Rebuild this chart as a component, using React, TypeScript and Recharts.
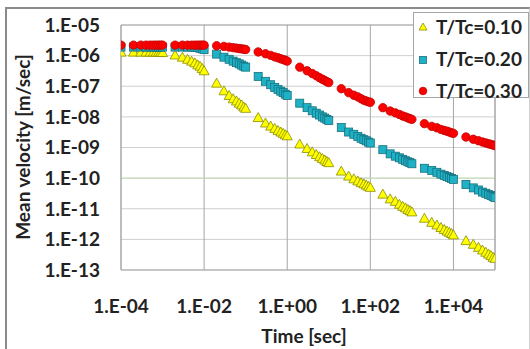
import React from "react";
import {
  ScatterChart,
  Scatter,
  XAxis,
  YAxis,
  CartesianGrid,
  ReferenceLine,
  Label,
} from "recharts";

// time points (sec)
const TIMES = [
  1e-4, 2e-4, 3e-4, 4e-4, 5e-4, 6e-4, 7e-4, 8e-4, 9e-4,
  1e-3, 2e-3, 3e-3, 4e-3, 5e-3, 6e-3, 7e-3, 8e-3, 9e-3,
  1e-2, 2e-2, 3e-2, 4e-2, 5e-2, 6e-2, 7e-2, 8e-2, 9e-2,
  0.1, 0.2, 0.3, 0.4, 0.5, 0.6, 0.7, 0.8, 0.9,
  1, 2, 3, 4, 5, 6, 7, 8, 9,
  10, 20, 30, 40, 50, 60, 70, 80, 90,
  100, 200, 300, 400, 500, 600, 700, 800, 900,
  1000, 2000, 3000, 4000, 5000, 6000, 7000, 8000, 9000,
  1e4, 2e4, 3e4, 4e4, 5e4, 6e4, 7e4, 8e4, 9e4,
  1e5,
];

// mean velocity [m/sec], T/Tc = 0.10
const V_010 = [
  1.3e-6, 1.3e-6, 1.3e-6, 1.3e-6, 1.3e-6, 1.3e-6, 1.3e-6, 1.28e-6, 1.28e-6,
  1.26e-6, 1.05e-6, 8.9e-7, 7.6e-7, 6.6e-7, 5.8e-7, 5.0e-7, 4.5e-7, 3.8e-7,
  3.2e-7, 1.26e-7, 7.1e-8, 5.0e-8, 3.9e-8, 3.3e-8, 2.8e-8, 2.45e-8, 2.1e-8,
  1.9e-8, 9.5e-9, 6.3e-9, 5.0e-9, 4.2e-9, 3.6e-9, 3.2e-9, 2.9e-9, 2.6e-9,
  2.4e-9, 1.3e-9, 9.3e-10, 7.2e-10, 5.9e-10, 5.0e-10, 4.4e-10, 3.9e-10, 3.5e-10,
  3.2e-10, 1.7e-10, 1.17e-10, 9.5e-11, 8.1e-11, 7.1e-11, 6.5e-11, 5.9e-11, 5.4e-11,
  5.0e-11, 3.0e-11, 2.1e-11, 1.74e-11, 1.4e-11, 1.2e-11, 1.07e-11, 9.5e-12, 8.7e-12,
  7.9e-12, 4.9e-12, 3.6e-12, 2.95e-12, 2.45e-12, 2.1e-12, 1.86e-12, 1.7e-12, 1.55e-12,
  1.4e-12, 9.1e-13, 6.9e-13, 5.5e-13, 4.5e-13, 3.8e-13, 3.3e-13, 2.95e-13, 2.6e-13,
  2.4e-13,
];

// T/Tc = 0.20
const V_020 = [
  1.9e-6, 1.9e-6, 1.9e-6, 1.9e-6, 1.9e-6, 1.9e-6, 1.9e-6, 1.9e-6, 1.9e-6,
  1.9e-6, 1.9e-6, 1.9e-6, 1.9e-6, 1.9e-6, 1.86e-6, 1.82e-6, 1.74e-6, 1.66e-6,
  1.58e-6, 1.12e-6, 8.9e-7, 7.6e-7, 6.6e-7, 5.9e-7, 5.4e-7, 4.9e-7, 4.5e-7,
  4.2e-7, 2.1e-7, 1.45e-7, 1.12e-7, 9.1e-8, 7.9e-8, 6.9e-8, 6.2e-8, 5.5e-8,
  5.0e-8, 2.8e-8, 2.0e-8, 1.58e-8, 1.32e-8, 1.15e-8, 1.0e-8, 9.1e-9, 8.3e-9,
  7.6e-9, 4.5e-9, 3.2e-9, 2.7e-9, 2.3e-9, 2.0e-9, 1.8e-9, 1.66e-9, 1.5e-9,
  1.4e-9, 8.5e-10, 6.2e-10, 5.2e-10, 4.6e-10, 4.1e-10, 3.7e-10, 3.4e-10, 3.2e-10,
  2.95e-10, 2.1e-10, 1.78e-10, 1.55e-10, 1.35e-10, 1.23e-10, 1.12e-10, 1.05e-10, 9.8e-11,
  9.1e-11, 6.2e-11, 4.8e-11, 4.1e-11, 3.5e-11, 3.2e-11, 2.9e-11, 2.7e-11, 2.5e-11,
  2.3e-11,
];

// T/Tc = 0.30
const V_030 = [
  2.2e-6, 2.2e-6, 2.2e-6, 2.2e-6, 2.2e-6, 2.2e-6, 2.2e-6, 2.2e-6, 2.2e-6,
  2.2e-6, 2.2e-6, 2.2e-6, 2.2e-6, 2.2e-6, 2.2e-6, 2.2e-6, 2.2e-6, 2.2e-6,
  2.2e-6, 2.1e-6, 2.0e-6, 1.9e-6, 1.82e-6, 1.76e-6, 1.7e-6, 1.66e-6, 1.62e-6,
  1.58e-6, 1.32e-6, 1.15e-6, 1.02e-6, 9.1e-7, 8.5e-7, 7.9e-7, 7.4e-7, 7.1e-7,
  6.6e-7, 4.2e-7, 3.2e-7, 2.6e-7, 2.2e-7, 1.9e-7, 1.7e-7, 1.55e-7, 1.41e-7,
  1.32e-7, 8.3e-8, 6.2e-8, 5.1e-8, 4.5e-8, 3.9e-8, 3.5e-8, 3.3e-8, 3.1e-8,
  3.0e-8, 2.0e-8, 1.55e-8, 1.35e-8, 1.2e-8, 1.07e-8, 1.0e-8, 9.3e-9, 8.7e-9,
  8.3e-9, 6.0e-9, 4.9e-9, 4.4e-9, 3.9e-9, 3.6e-9, 3.4e-9, 3.2e-9, 3.0e-9,
  2.9e-9, 2.2e-9, 1.86e-9, 1.66e-9, 1.51e-9, 1.41e-9, 1.32e-9, 1.26e-9, 1.2e-9,
  1.15e-9,
];

const SERIES_NAMES = ["T/Tc=0.10", "T/Tc=0.20", "T/Tc=0.30"];
const X_TICKS = [1e-4, 1e-2, 1, 1e2, 1e4];
const Y_TICKS = [1e-13, 1e-12, 1e-11, 1e-10, 1e-9, 1e-8, 1e-7, 1e-6, 1e-5];

const FONT = "Lato, 'Open Sans', sans-serif";
const FS = 19;

const toPoints = (vals: number[]) => TIMES.map((t, i) => ({ t, v: vals[i] }));

const fmtExp = (v: number) => {
  const e = Math.round(Math.log10(v));
  return `1.E${e < 0 ? "-" : "+"}${String(Math.abs(e)).padStart(2, "0")}`;
};

const Tri = ({ cx, cy }: any) => (
  <polygon
    points={`${cx},${cy - 5} ${cx + 5},${cy + 4} ${cx - 5},${cy + 4}`}
    fill="#ffff00"
    stroke="#8c8c00"
    strokeWidth={0.8}
  />
);
const Sq = ({ cx, cy }: any) => (
  <rect x={cx - 4} y={cy - 4} width={8} height={8} fill="#1fb2c6" stroke="#16707e" strokeWidth={0.8} />
);
const Dot = ({ cx, cy }: any) => (
  <circle cx={cx} cy={cy} r={4.2} fill="#ff0000" stroke="#c00000" strokeWidth={0.8} />
);

const XTick = ({ x, y, payload }: any) => (
  <text x={x} y={y + 43} textAnchor="middle" fontFamily={FONT} fontWeight={700} fontSize={FS} fill="#222">
    {fmtExp(payload.value)}
  </text>
);
const YTick = ({ x, y, payload }: any) => (
  <text x={x - 21} y={y} dy="0.36em" textAnchor="end" fontFamily={FONT} fontWeight={700} fontSize={FS} fill="#222">
    {fmtExp(payload.value)}
  </text>
);

const LegendBox = () => {
  const marks = [
    <polygon key="a" points="423,23 427,30 419,30" fill="#ffff00" stroke="#8c8c00" strokeWidth={0.8} />,
    <rect key="b" x={419.5} y={56.5} width={7} height={7} fill="#1fb2c6" stroke="#16707e" strokeWidth={0.8} />,
    <circle key="c" cx={423} cy={91} r={3.8} fill="#ff0000" stroke="#c00000" strokeWidth={0.8} />,
  ];
  return (
    <svg width={530} height={349} style={{ position: "absolute", left: 0, top: 0, pointerEvents: "none" }}>
      <rect x={413.5} y={12.5} width={115} height={85} fill="#fff" stroke="#a6a6a6" />
      {marks}
      {SERIES_NAMES.map((n, i) => (
        <text key={n} x={436} y={27 + i * 32} dy="0.36em" fontFamily={FONT} fontWeight={700} fontSize={FS} fill="#222">
          {n}
        </text>
      ))}
    </svg>
  );
};

export default function App() {
  return (
    <div style={{ position: "fixed", left: 0, top: 0, width: 530, height: 349, background: "#fff", overflow: "hidden" }}>
      <div
        style={{
          position: "absolute",
          left: 5,
          top: 7,
          width: 522,
          height: 350,
          borderLeft: "2px solid #8a8a8a",
          borderTop: "2px solid #8a8a8a",
          borderRight: "1px solid #d0d0d0",
        }}
      />
      <ScatterChart width={530} height={349} margin={{ top: 25, right: 35, bottom: 0, left: 0 }}>
        <CartesianGrid vertical={false} stroke="#cfcfcf" />
        <CartesianGrid horizontal={false} stroke="#a6a6a6" />
        <XAxis
          dataKey="t"
          type="number"
          scale="log"
          domain={[1e-4, 1e5]}
          ticks={X_TICKS}
          allowDataOverflow
          height={79}
          tickSize={0}
          tickMargin={0}
          axisLine={{ stroke: "#a6a6a6" }}
          tick={<XTick />}
        >
          <Label
            content={() => (
              <text x={304} y={343} textAnchor="middle" fontFamily={FONT} fontWeight={700} fontSize={FS} fill="#222">
                Time [sec]
              </text>
            )}
          />
        </XAxis>
        <YAxis
          dataKey="v"
          type="number"
          scale="log"
          domain={[1e-13, 1e-5]}
          ticks={Y_TICKS}
          allowDataOverflow
          width={121}
          tickSize={0}
          tickMargin={0}
          axisLine={{ stroke: "#a6a6a6" }}
          tick={<YTick />}
        >
          <Label
            content={() => (
              <text
                x={23}
                y={147}
                dy="0.36em"
                transform="rotate(-90 23 147)"
                textAnchor="middle"
                fontFamily={FONT}
                fontWeight={700}
                fontSize={FS}
                fill="#222"
              >
                Mean velocity [m/sec]
              </text>
            )}
          />
        </YAxis>
        <ReferenceLine y={1e-10} stroke="#c3dfb0" />
        <ReferenceLine y={1e-5} stroke="#a6a6a6" />
        <ReferenceLine x={1e5} stroke="#a6a6a6" />
        <Scatter name={SERIES_NAMES[0]} data={toPoints(V_010)} shape={<Tri />} isAnimationActive={false} />
        <Scatter name={SERIES_NAMES[1]} data={toPoints(V_020)} shape={<Sq />} isAnimationActive={false} />
        <Scatter name={SERIES_NAMES[2]} data={toPoints(V_030)} shape={<Dot />} isAnimationActive={false} />
      </ScatterChart>
      <LegendBox />
    </div>
  );
}
